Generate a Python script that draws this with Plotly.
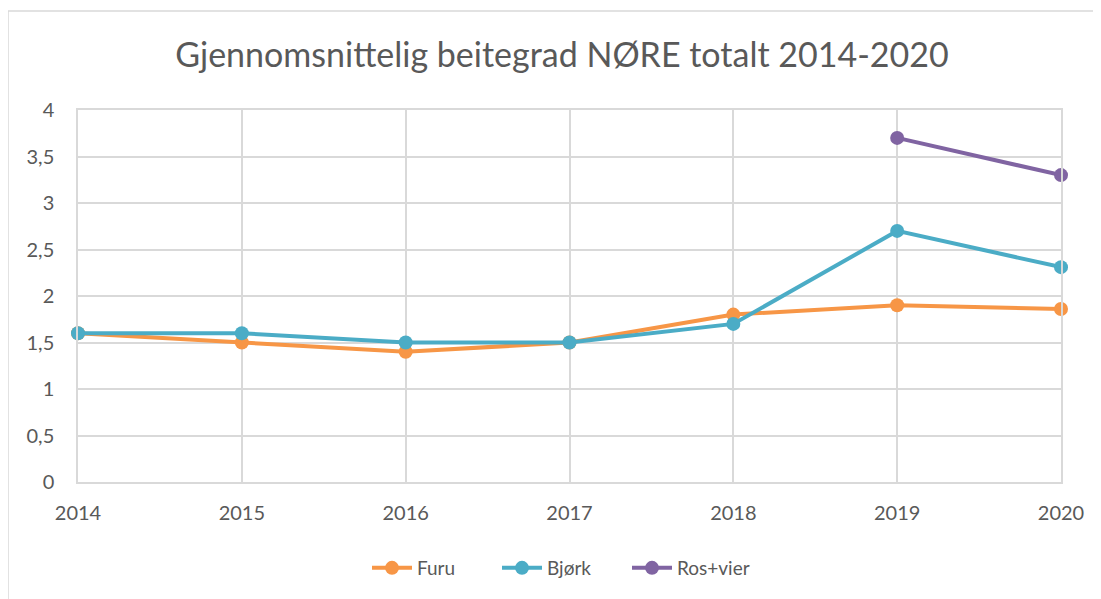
import plotly.graph_objects as go

years = [2014, 2015, 2016, 2017, 2018, 2019, 2020]
furu = [1.6, 1.5, 1.4, 1.5, 1.8, 1.9, 1.86]
bjork = [1.6, 1.6, 1.5, 1.5, 1.7, 2.7, 2.31]
ros_vier = [None, None, None, None, None, 3.7, 3.3]

series = [
    ("Furu", furu, "#F79646"),
    ("Bjørk", bjork, "#4BACC6"),
    ("Ros+vier", ros_vier, "#8064A2"),
]

fig = go.Figure()
for name, vals, col in series:
    fig.add_trace(go.Scatter(
        x=years, y=vals, name=name, mode="lines+markers",
        line=dict(color=col, width=4),
        marker=dict(color=col, size=14),
        cliponaxis=False,
    ))

# page body has an 8px default margin; compensate so target pixels match
OFF = 8
W, H = 1101, 599
L, R, T, B = 78 - OFF, 1061 - OFF, 110 - OFF, 482 - OFF
pw, ph = R - L, B - T

def px(x):
    return (x - OFF - L) / pw

def py(y):
    return (B - (y - OFF)) / ph

grid = "#d9d9d9"
fig.update_layout(
    width=W, height=H,
    margin=dict(l=L, r=W - R, t=T, b=H - B),
    paper_bgcolor="white", plot_bgcolor="white",
    separators=",.",
    font=dict(family="Lato, 'Open Sans', sans-serif", size=20, color="#595959"),
    title=dict(text="Gjennomsnittelig beitegrad NØRE totalt 2014-2020",
               x=(562 - OFF) / W, xanchor="center", y=1 - (55 - OFF) / H, yanchor="middle",
               font=dict(size=34, color="#595959")),
    showlegend=True,
    legend=dict(orientation="h", x=px(367), xanchor="left",
                y=py(568), yanchor="middle",
                font=dict(size=19, color="#595959"), itemwidth=40,
                entrywidth=75, entrywidthmode="pixels"),
    xaxis=dict(range=[2014, 2020], tickvals=years, ticktext=[str(y) for y in years],
               showgrid=True, gridcolor=grid, gridwidth=1.5,
               showline=True, linecolor=grid, linewidth=1.5, mirror=True,
               zeroline=False, ticks="", ticklabelstandoff=12,
               tickfont=dict(size=20)),
    yaxis=dict(range=[0, 4], dtick=0.5, tick0=0,
               showgrid=True, gridcolor=grid, gridwidth=1.5,
               showline=True, linecolor=grid, linewidth=1.5, mirror=True,
               zeroline=False, ticks="", ticklabelstandoff=18,
               tickfont=dict(size=20)),
    shapes=[
        dict(type="line", xref="paper", yref="paper",
             x0=px(8), y0=py(11), x1=px(1101 + OFF), y1=py(11),
             line=dict(color=grid, width=1.5)),
        dict(type="line", xref="paper", yref="paper",
             x0=px(8), y0=py(11), x1=px(8), y1=py(599 + OFF),
             line=dict(color=grid, width=1.5)),
    ],
)

fig.write_html("out.html")
